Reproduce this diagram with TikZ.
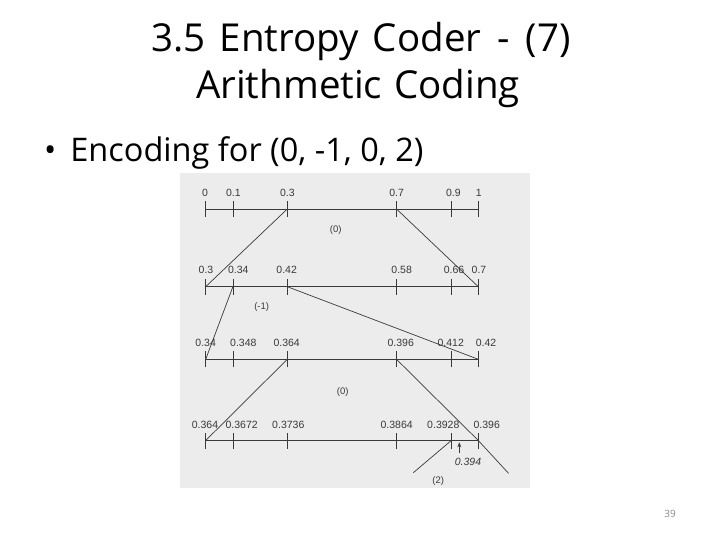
\documentclass[tikz,border=0pt]{standalone}
\usepackage{fontspec}
\setmainfont{Open Sans}
\newfontfamily\scanfont{Liberation Sans}
\usetikzlibrary{arrows.meta}
\definecolor{scanbg}{HTML}{ECECEC}
\definecolor{ink}{HTML}{3A3A3A}
\definecolor{pagegray}{HTML}{8A8A8A}
\begin{document}
\begin{tikzpicture}[x=1pt,y=-1pt,
  axis/.style={draw=ink,line width=0.8pt},
  tickmark/.style={draw=ink,line width=0.8pt},
  link/.style={draw=ink,line width=0.7pt},
  lab/.style={font=\scanfont\fontsize{10.5}{12}\selectfont,text=ink,anchor=base,inner sep=0pt},
  sym/.style={font=\scanfont\fontsize{9.5}{11}\selectfont,text=ink,inner sep=0pt},
  title/.style={font=\fontsize{38.5}{44}\selectfont,anchor=base,inner sep=0pt},
]
\useasboundingbox (0,0) rectangle (720,540);
\fill[white] (0,0) rectangle (720,540);
\fill[scanbg] (180,173) rectangle (530,488);

% titles
\node[title] (t1) at (361,51.7) {3.5\hspace{4pt} Entropy\hspace{4pt} Coder\hspace{6pt} -\hspace{6pt} (7)};
\node[title] (t2) at (358,98.3) {Arithmetic\hspace{2pt} Coding};
\node[font=\fontsize{32.5}{38}\selectfont,anchor=base west,inner sep=0pt] (bul) at (44,161.7) {\textbullet\hspace{14pt}Encoding for (0, -1, 0, 2)};
\node[font=\fontsize{10}{12}\selectfont,text=pagegray,inner sep=0pt] (pg) at (670,514) {39};

% tick positions
\def\xa{205.7}\def\xb{232.9}\def\xc{287.3}\def\xd{396.5}\def\xe{451.3}\def\xf{478.3}
\foreach \r/\y in {1/209,2/286.7,3/359.3,4/440.5}{
  \coordinate (r\r a) at (\xa,\y);
  \coordinate (r\r b) at (\xb,\y);
  \coordinate (r\r c) at (\xc,\y);
  \coordinate (r\r d) at (\xd,\y);
  \coordinate (r\r e) at (\xe,\y);
  \coordinate (r\r f) at (\xf,\y);
  \draw[axis] (r\r a) -- (r\r f);
  \foreach \k in {a,b,c,d,e,f}{
    \draw[tickmark] ([yshift=-8pt]r\r\k) -- ([yshift=8pt]r\r\k);
  }
}

% labels row 1
\node[lab] (l1a) at (205,196.7) {0};
\node[lab] (l1b) at (233.3,196.7) {0.1};
\node[lab] (l1c) at (287.3,196.7) {0.3};
\node[lab] (l1d) at (396.7,196.7) {0.7};
\node[lab] (l1e) at (453.3,196.7) {0.9};
\node[lab] (l1f) at (478.8,196.7) {1};
% row 2
\node[lab] (l2a) at (206,273.5) {0.3};
\node[lab] (l2b) at (238.3,273.5) {0.34};
\node[lab] (l2c) at (286.7,273.5) {0.42};
\node[lab] (l2d) at (401.7,273.5) {0.58};
\node[lab] (l2e) at (454,273.5) {0.66};
\node[lab] (l2f) at (479,273.5) {0.7};
% row 3
\node[lab] (l3a) at (205.7,346.7) {0.34};
\node[lab] (l3b) at (243.3,346.7) {0.348};
\node[lab] (l3c) at (286.7,346.7) {0.364};
\node[lab] (l3d) at (400.7,346.7) {0.396};
\node[lab] (l3e) at (450.7,346.7) {0.412};
\node[lab] (l3f) at (486,346.7) {0.42};
% row 4
\node[lab] (l4a) at (205,428) {0.364};
\node[lab] (l4b) at (241.7,428) {0.3672};
\node[lab] (l4c) at (288.3,428) {0.3736};
\node[lab] (l4d) at (396.7,428) {0.3864};
\node[lab] (l4e) at (443.3,428) {0.3928};
\node[lab] (l4f) at (486.7,428) {0.396};

% symbol labels
\node[sym] (s1) at (335.7,230) {(0)};
\node[sym] (s2) at (261.7,306.7) {(-1)};
\node[sym] (s3) at (342.7,391.7) {(0)};
\node[sym] (s4) at (438.3,481.5) {(2)};
\node[sym,font=\scanfont\itshape\fontsize{10.5}{12}\selectfont] (s5) at (468,461.7) {0.394};

% connectors
\draw[link] (r1c) -- (r2a);
\draw[link] (r1d) -- (r2f);
\draw[link] (r2b) -- (r3a);
\draw[link] (r2c) -- (r3f);
\draw[link] (r3c) -- (r4a);
\coordinate (endR) at (508.5,473.3);
\coordinate (endL) at (413.3,472.7);
\draw[link] (r3d) -- (r4f) -- (endR);
\draw[link] (r4e) -- (endL);
\coordinate (arT) at (459.3,453);
\coordinate (arH) at (459.3,442.3);
\draw[link,-{Stealth[length=5pt,width=4pt]}] (arT) -- (arH);
\end{tikzpicture}
\end{document}
